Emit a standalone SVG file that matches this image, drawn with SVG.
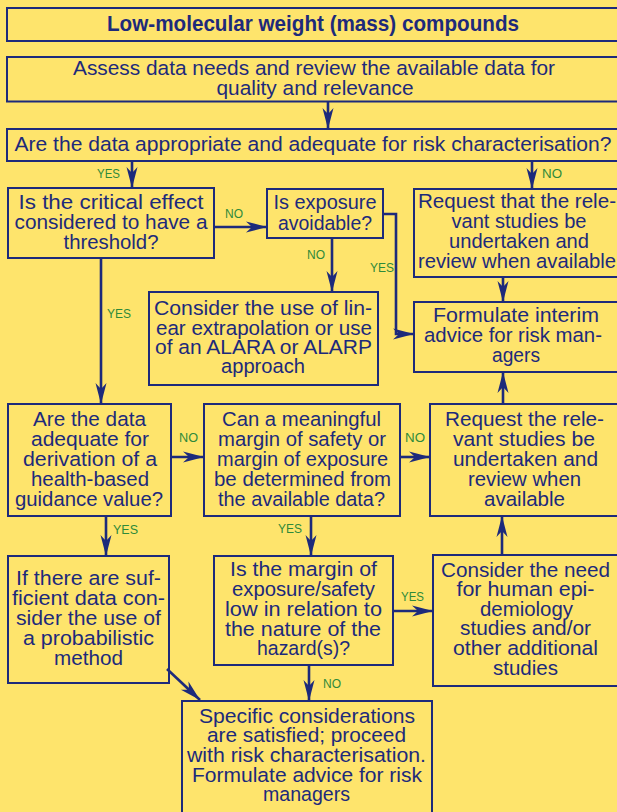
<svg xmlns="http://www.w3.org/2000/svg" width="617" height="812" viewBox="0 0 617 812">
  <style>
    .box { fill: none; stroke: #1D2A7B; stroke-width: 2; }
    .t { font-family: "Liberation Sans Narrow", "Liberation Sans", Arial, sans-serif; font-size: 20.5px; fill: #1D2A7B; text-anchor: middle; }
    .title { font-family: "Liberation Sans Narrow", "Liberation Sans", Arial, sans-serif; font-size: 22px; font-weight: bold; fill: #1D2A7B; text-anchor: middle; }
    .lbl { font-family: "Liberation Sans Narrow", "Liberation Sans", Arial, sans-serif; font-size: 12.5px; fill: #2E8A3A; }
    .edge { fill: none; stroke: #1D2A7B; stroke-width: 2.6; }
  </style>
  <defs>
    <marker id="arrow" markerUnits="userSpaceOnUse" markerWidth="24" markerHeight="14" viewBox="-22 -7 24 14" refX="0" refY="0" orient="auto">
      <path d="M0,0 L-21,-5.5 L-15,0 L-21,5.5 Z" fill="#1D2A7B"/>
    </marker>
  </defs>

  <rect width="617" height="812" fill="#FEE46C"/>

  <!-- title bar -->
  <g id="title">
    <rect class="box" x="7" y="8" width="625" height="33"/>
    <text class="title" x="313" y="31" textLength="412" lengthAdjust="spacingAndGlyphs">Low-molecular weight (mass) compounds</text>
  </g>

  <g id="assess">
    <rect class="box" x="7" y="57" width="625" height="44.5"/>
    <text class="t" x="314" y="75" textLength="482" lengthAdjust="spacingAndGlyphs">Assess data needs and review the available data for</text>
    <text class="t" x="315" y="95" textLength="197" lengthAdjust="spacingAndGlyphs">quality and relevance</text>
  </g>

  <g id="adequate-risk">
    <rect class="box" x="7" y="129" width="625" height="32"/>
    <text class="t" x="313" y="151" textLength="597" lengthAdjust="spacingAndGlyphs">Are the data appropriate and adequate for risk characterisation?</text>
  </g>

  <g id="threshold">
    <rect class="box" x="8" y="188" width="206" height="70"/>
    <text class="t" x="111" y="209" textLength="185" lengthAdjust="spacingAndGlyphs">Is the critical effect</text>
    <text class="t" x="111" y="229" textLength="193" lengthAdjust="spacingAndGlyphs">considered to have a</text>
    <text class="t" x="111" y="248.5" textLength="95" lengthAdjust="spacingAndGlyphs">threshold?</text>
  </g>

  <g id="avoidable">
    <rect class="box" x="267" y="189" width="116" height="49"/>
    <text class="t" x="325" y="209" textLength="103" lengthAdjust="spacingAndGlyphs">Is exposure</text>
    <text class="t" x="325" y="229.5" textLength="94" lengthAdjust="spacingAndGlyphs">avoidable?</text>
  </g>

  <g id="request-top">
    <rect class="box" x="414" y="189" width="218" height="88"/>
    <text class="t" x="517" y="208" textLength="198" lengthAdjust="spacingAndGlyphs">Request that the rele-</text>
    <text class="t" x="519" y="228" textLength="135" lengthAdjust="spacingAndGlyphs">vant studies be</text>
    <text class="t" x="519" y="248" textLength="140" lengthAdjust="spacingAndGlyphs">undertaken and</text>
    <text class="t" x="517" y="268" textLength="198" lengthAdjust="spacingAndGlyphs">review when available</text>
  </g>

  <g id="linear">
    <rect class="box" x="149" y="292" width="229" height="93"/>
    <text class="t" x="263" y="315" textLength="218" lengthAdjust="spacingAndGlyphs">Consider the use of lin-</text>
    <text class="t" x="264" y="334.5" textLength="216" lengthAdjust="spacingAndGlyphs">ear extrapolation or use</text>
    <text class="t" x="263.5" y="354" textLength="217" lengthAdjust="spacingAndGlyphs">of an ALARA or ALARP</text>
    <text class="t" x="263" y="373" textLength="84" lengthAdjust="spacingAndGlyphs">approach</text>
  </g>

  <g id="interim">
    <rect class="box" x="414" y="302" width="218" height="70"/>
    <text class="t" x="516" y="322" textLength="166" lengthAdjust="spacingAndGlyphs">Formulate interim</text>
    <text class="t" x="513" y="342" textLength="178" lengthAdjust="spacingAndGlyphs">advice for risk man-</text>
    <text class="t" x="516" y="361.5" textLength="48" lengthAdjust="spacingAndGlyphs">agers</text>
  </g>

  <g id="guidance">
    <rect class="box" x="8" y="404" width="163" height="112"/>
    <text class="t" x="89.5" y="426" textLength="113" lengthAdjust="spacingAndGlyphs">Are the data</text>
    <text class="t" x="90" y="446" textLength="118" lengthAdjust="spacingAndGlyphs">adequate for</text>
    <text class="t" x="90" y="466" textLength="134" lengthAdjust="spacingAndGlyphs">derivation of a</text>
    <text class="t" x="90" y="486" textLength="118" lengthAdjust="spacingAndGlyphs">health-based</text>
    <text class="t" x="89" y="506" textLength="148" lengthAdjust="spacingAndGlyphs">guidance value?</text>
  </g>

  <g id="margin">
    <rect class="box" x="204" y="404" width="196" height="112"/>
    <text class="t" x="301.5" y="426" textLength="159" lengthAdjust="spacingAndGlyphs">Can a meaningful</text>
    <text class="t" x="302" y="446" textLength="168" lengthAdjust="spacingAndGlyphs">margin of safety or</text>
    <text class="t" x="302.5" y="466" textLength="171" lengthAdjust="spacingAndGlyphs">margin of exposure</text>
    <text class="t" x="302.5" y="486" textLength="177" lengthAdjust="spacingAndGlyphs">be determined from</text>
    <text class="t" x="301.5" y="506" textLength="167" lengthAdjust="spacingAndGlyphs">the available data?</text>
  </g>

  <g id="request-mid">
    <rect class="box" x="430" y="404" width="202" height="112"/>
    <text class="t" x="524.5" y="426" textLength="159" lengthAdjust="spacingAndGlyphs">Request the rele-</text>
    <text class="t" x="524" y="446" textLength="142" lengthAdjust="spacingAndGlyphs">vant studies be</text>
    <text class="t" x="525.5" y="466" textLength="145" lengthAdjust="spacingAndGlyphs">undertaken and</text>
    <text class="t" x="524.5" y="486" textLength="113" lengthAdjust="spacingAndGlyphs">review when</text>
    <text class="t" x="524.5" y="506" textLength="81" lengthAdjust="spacingAndGlyphs">available</text>
  </g>

  <g id="probabilistic">
    <rect class="box" x="8" y="556" width="161" height="127"/>
    <text class="t" x="88.5" y="585" textLength="145" lengthAdjust="spacingAndGlyphs">If there are suf-</text>
    <text class="t" x="88.5" y="605" textLength="153" lengthAdjust="spacingAndGlyphs">ficient data con-</text>
    <text class="t" x="88.5" y="625" textLength="145" lengthAdjust="spacingAndGlyphs">sider the use of</text>
    <text class="t" x="88.5" y="645" textLength="131" lengthAdjust="spacingAndGlyphs">a probabilistic</text>
    <text class="t" x="88.5" y="664.5" textLength="69" lengthAdjust="spacingAndGlyphs">method</text>
  </g>

  <g id="margin-low">
    <rect class="box" x="214" y="556" width="179" height="109"/>
    <text class="t" x="303.5" y="575.5" textLength="147" lengthAdjust="spacingAndGlyphs">Is the margin of</text>
    <text class="t" x="303.5" y="595.5" textLength="143" lengthAdjust="spacingAndGlyphs">exposure/safety</text>
    <text class="t" x="303.5" y="615.5" textLength="157" lengthAdjust="spacingAndGlyphs">low in relation to</text>
    <text class="t" x="303" y="635.5" textLength="156" lengthAdjust="spacingAndGlyphs">the nature of the</text>
    <text class="t" x="303.5" y="655" textLength="93" lengthAdjust="spacingAndGlyphs">hazard(s)?</text>
  </g>

  <g id="epidemiology">
    <rect class="box" x="433" y="555" width="199" height="131"/>
    <text class="t" x="525.5" y="576.5" textLength="169" lengthAdjust="spacingAndGlyphs">Consider the need</text>
    <text class="t" x="525.5" y="596" textLength="138" lengthAdjust="spacingAndGlyphs">for human epi-</text>
    <text class="t" x="526.5" y="615.5" textLength="93" lengthAdjust="spacingAndGlyphs">demiology</text>
    <text class="t" x="525.5" y="635" textLength="131" lengthAdjust="spacingAndGlyphs">studies and/or</text>
    <text class="t" x="525.5" y="655" textLength="145" lengthAdjust="spacingAndGlyphs">other additional</text>
    <text class="t" x="525.5" y="675" textLength="65" lengthAdjust="spacingAndGlyphs">studies</text>
  </g>

  <g id="proceed">
    <rect class="box" x="182" y="701" width="250" height="130"/>
    <text class="t" x="307" y="722.5" textLength="216" lengthAdjust="spacingAndGlyphs">Specific considerations</text>
    <text class="t" x="306.5" y="742" textLength="199" lengthAdjust="spacingAndGlyphs">are satisfied; proceed</text>
    <text class="t" x="306.5" y="761.5" textLength="239" lengthAdjust="spacingAndGlyphs">with risk characterisation.</text>
    <text class="t" x="307" y="781.5" textLength="230" lengthAdjust="spacingAndGlyphs">Formulate advice for risk</text>
    <text class="t" x="306.5" y="801" textLength="87" lengthAdjust="spacingAndGlyphs">managers</text>
  </g>

  <!-- connectors -->
  <g id="connectors">
    <line class="edge" x1="328" y1="101.5" x2="328" y2="129" marker-end="url(#arrow)"/>
    <line class="edge" x1="132" y1="161" x2="132" y2="188" marker-end="url(#arrow)"/>
    <line class="edge" x1="532" y1="161" x2="532" y2="189" marker-end="url(#arrow)"/>
    <line class="edge" x1="214" y1="227" x2="267" y2="227" marker-end="url(#arrow)"/>
    <line class="edge" x1="332" y1="238" x2="332" y2="292" marker-end="url(#arrow)"/>
    <polyline class="edge" points="383,214 396,214 396,334 414,334" marker-end="url(#arrow)"/>
    <line class="edge" x1="503" y1="277" x2="503" y2="302" marker-end="url(#arrow)"/>
    <line class="edge" x1="101" y1="258" x2="101" y2="404" marker-end="url(#arrow)"/>
    <line class="edge" x1="171" y1="457" x2="204" y2="457" marker-end="url(#arrow)"/>
    <line class="edge" x1="400" y1="457" x2="430" y2="457" marker-end="url(#arrow)"/>
    <line class="edge" x1="503" y1="404" x2="503" y2="372" marker-end="url(#arrow)"/>
    <line class="edge" x1="106" y1="516" x2="106" y2="556" marker-end="url(#arrow)"/>
    <line class="edge" x1="311" y1="516" x2="311" y2="556" marker-end="url(#arrow)"/>
    <line class="edge" x1="502" y1="555" x2="502" y2="516" marker-end="url(#arrow)"/>
    <line class="edge" x1="393" y1="611" x2="433" y2="611" marker-end="url(#arrow)"/>
    <line class="edge" x1="309" y1="665" x2="309" y2="701" marker-end="url(#arrow)"/>
    <line class="edge" x1="167" y1="669" x2="200" y2="700" marker-end="url(#arrow)"/>

    <text class="lbl" x="97" y="178" textLength="23" lengthAdjust="spacingAndGlyphs">YES</text>
    <text class="lbl" x="542" y="178" textLength="20" lengthAdjust="spacingAndGlyphs">NO</text>
    <text class="lbl" x="225" y="217.5" textLength="18" lengthAdjust="spacingAndGlyphs">NO</text>
    <text class="lbl" x="307" y="259" textLength="18" lengthAdjust="spacingAndGlyphs">NO</text>
    <text class="lbl" x="370" y="272" textLength="24" lengthAdjust="spacingAndGlyphs">YES</text>
    <text class="lbl" x="107" y="318" textLength="24" lengthAdjust="spacingAndGlyphs">YES</text>
    <text class="lbl" x="179" y="442" textLength="19" lengthAdjust="spacingAndGlyphs">NO</text>
    <text class="lbl" x="405" y="442" textLength="20" lengthAdjust="spacingAndGlyphs">NO</text>
    <text class="lbl" x="113" y="534" textLength="25" lengthAdjust="spacingAndGlyphs">YES</text>
    <text class="lbl" x="278" y="533" textLength="24" lengthAdjust="spacingAndGlyphs">YES</text>
    <text class="lbl" x="401" y="601" textLength="23" lengthAdjust="spacingAndGlyphs">YES</text>
    <text class="lbl" x="323" y="688" textLength="18" lengthAdjust="spacingAndGlyphs">NO</text>
  </g>
</svg>
